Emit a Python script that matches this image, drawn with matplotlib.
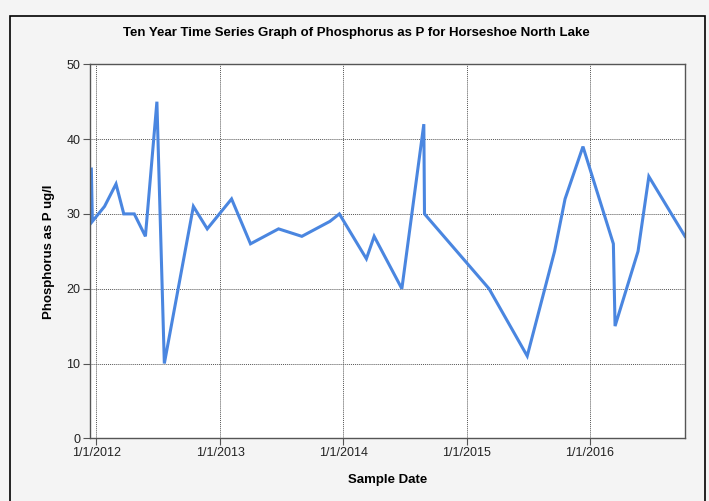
import matplotlib
matplotlib.use('Agg')
matplotlib.rcParams['font.family'] = ['Liberation Sans', 'DejaVu Sans']
import matplotlib.pyplot as plt
import matplotlib.dates as mdates
from matplotlib.patches import Rectangle
import pandas as pd

# sample dates and phosphorus values (ug/l)
dates = [
    '2011-12-17', '2011-12-20', '2012-01-25', '2012-02-28', '2012-03-22',
    '2012-04-22', '2012-05-25', '2012-06-28', '2012-07-20', '2012-10-14',
    '2012-11-24', '2013-02-04', '2013-04-01', '2013-06-23', '2013-08-31',
    '2013-11-22', '2013-12-20', '2014-03-10', '2014-04-02', '2014-06-23',
    '2014-08-27', '2014-08-29', '2015-03-08', '2015-06-29', '2015-09-18',
    '2015-10-19', '2015-12-11', '2016-03-10', '2016-03-15', '2016-05-22',
    '2016-06-23', '2016-10-08',
]
values = [
    36, 29, 31, 34, 30,
    30, 27, 45, 10, 31,
    28, 32, 26, 28, 27,
    29, 30, 24, 27, 20,
    42, 30, 20, 11, 25,
    32, 39, 26, 15, 25,
    35, 27,
]
tick_dates = ['2012-01-01', '2013-01-01', '2014-01-01', '2015-01-01', '2016-01-01']
y_ticks = [0, 10, 20, 30, 40, 50]

x = pd.to_datetime(dates)
xt = pd.to_datetime(tick_dates)

fig = plt.figure(figsize=(7.09, 5.01), dpi=100, facecolor='#f4f4f4')
fig.patches.append(Rectangle((10 / 709, -0.01), 695 / 709, 1 - 16 / 501 + 0.01,
                             transform=fig.transFigure, fill=False,
                             edgecolor='black', linewidth=1.2))
ax = fig.add_axes([90 / 709, 1 - 438.3 / 501, 595 / 709, 374 / 501])
ax.set_facecolor('white')

ax.plot(x, values, color='#4a86e0', linewidth=2.2, solid_joinstyle='miter')

ax.set_xlim(x[0] - pd.Timedelta(days=4), x[-1])
ax.set_ylim(0, 50)
ax.set_xticks(xt)
ax.xaxis.set_major_formatter(mdates.DateFormatter('%-m/%-d/%Y'))
ax.set_yticks(y_ticks)

ax.grid(True, color='#555555', linestyle=(0, (1, 1)), linewidth=0.7)
for s in ax.spines.values():
    s.set_color('#555555')
    s.set_linewidth(1.0)
ax.tick_params(axis='both', colors='#555555', labelcolor='#222222', labelsize=9,
               length=5, width=0.8)
ax.tick_params(axis='x', pad=1)
ax.tick_params(axis='y', pad=2)

fig.suptitle('Ten Year Time Series Graph of Phosphorus as P for Horseshoe North Lake',
             x=0.503, y=1 - 33 / 501, va='center', fontsize=9.5, fontweight='bold')
ax.set_xlabel('Sample Date', fontsize=9.5, fontweight='bold', labelpad=11)
ax.set_ylabel('Phosphorus as P ug/l', fontsize=9.5, fontweight='bold', labelpad=8)

plt.savefig('out.png', dpi=100, facecolor=fig.get_facecolor())
